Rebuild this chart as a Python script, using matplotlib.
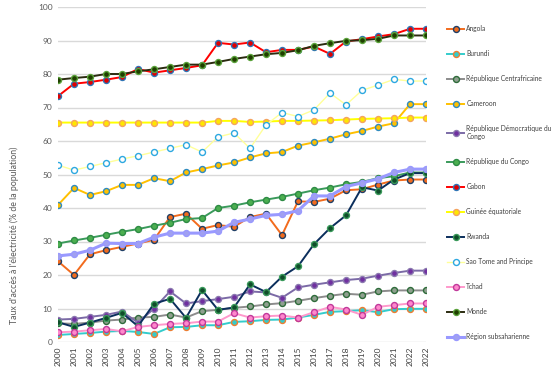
import matplotlib
matplotlib.use("Agg")
import matplotlib.pyplot as plt

plt.rcParams['font.family'] = ['Lato', 'DejaVu Sans']

years = [str(y) for y in range(2000, 2023)] + ["2022"]

angola = [24.1, 20.0, 26.2, 27.4, 28.4, 29.4, 30.5, 37.3, 38.3, 33.8, 34.9, 34.4,
          37.3, 38.3, 31.9, 42.0, 41.8, 42.8, 45.3, 45.6, 47.0, 48.2, 48.5, 48.5]
burundi = [2.1, 2.4, 2.7, 3.1, 3.3, 3.0, 2.4, 4.4, 4.5, 5.0, 5.0, 6.0,
           6.2, 6.6, 6.7, 7.3, 8.1, 9.0, 9.2, 9.5, 8.9, 9.8, 9.9, 9.9]
rca = [5.6, 5.4, 5.8, 6.4, 6.7, 7.3, 7.5, 8.2, 7.3, 9.2, 9.6, 10.2,
       10.6, 11.2, 11.6, 12.3, 13.1, 13.8, 14.4, 14.1, 15.1, 15.4, 15.4, 15.4]
cameroon = [40.9, 46.0, 43.9, 45.0, 46.9, 46.9, 48.9, 48.0, 50.6, 51.6, 52.7, 53.6,
            55.1, 56.3, 56.7, 58.6, 59.6, 60.7, 62.0, 63.0, 64.3, 65.3, 71.0, 71.0]
rdc = [6.7, 6.9, 7.5, 8.1, 9.1, 5.8, 10.0, 15.1, 11.5, 12.2, 12.8, 13.5,
       15.1, 14.8, 13.2, 16.3, 17.1, 17.8, 18.5, 18.9, 19.8, 20.6, 21.3, 21.3]
congo = [29.4, 30.3, 31.1, 32.0, 32.9, 33.7, 34.7, 35.6, 36.7, 37.0, 40.0, 40.7,
         41.7, 42.5, 43.3, 44.3, 45.3, 46.1, 47.1, 47.8, 48.9, 49.5, 50.6, 50.6]
gabon = [73.4, 77.1, 77.6, 78.3, 79.1, 81.5, 80.4, 81.1, 81.8, 82.6, 89.3, 88.8,
         89.4, 86.5, 87.2, 87.2, 88.2, 86.0, 89.7, 90.4, 91.2, 91.9, 93.5, 93.5]
guinee = [65.5, 65.5, 65.5, 65.5, 65.5, 65.5, 65.5, 65.5, 65.5, 65.5, 66.0, 66.0,
          65.7, 65.8, 66.0, 66.0, 66.1, 66.2, 66.4, 66.6, 66.7, 66.8, 67.0, 67.0]
rwanda = [5.9, 4.5, 5.8, 7.2, 8.7, 4.7, 11.4, 12.9, 7.2, 15.5, 9.6, 10.3,
          17.2, 14.9, 19.5, 22.6, 29.2, 34.0, 37.8, 46.2, 45.2, 48.5, 50.4, 50.4]
stp = [52.8, 51.3, 52.4, 53.5, 54.6, 55.6, 56.7, 57.8, 58.9, 56.7, 61.2, 62.4,
       57.8, 64.8, 68.5, 67.3, 69.3, 74.3, 70.8, 75.1, 76.7, 78.4, 77.9, 77.9]
tchad = [2.9, 3.1, 3.5, 3.9, 3.2, 4.5, 5.0, 5.4, 5.6, 6.1, 6.1, 8.6,
         7.3, 7.7, 7.9, 7.3, 8.9, 10.5, 9.7, 8.1, 10.5, 11.0, 11.5, 11.5]
monde = [78.3, 78.8, 79.2, 80.0, 80.0, 80.8, 81.4, 82.1, 82.8, 82.8, 83.6, 84.5,
         85.2, 85.9, 86.3, 87.1, 88.4, 89.2, 89.9, 90.1, 90.5, 91.5, 91.5, 91.5]
region = [25.7, 26.2, 27.4, 29.5, 29.4, 29.4, 31.3, 32.5, 32.5, 32.5, 33.1, 35.7,
          36.7, 37.8, 38.1, 39.2, 43.6, 43.6, 46.4, 47.5, 48.7, 50.6, 51.6, 51.6]

series = [
    ("Angola", angola, dict(color="#F26B1D", mfc="#F26B1D", mec="#1F3F66", lw=1.4)),
    ("Burundi", burundi, dict(color="#33CCCC", mfc="#33CCCC", mec="#ED7D31", lw=1.4)),
    ("République Centrafricaine", rca, dict(color="#8C8C8C", mfc="#8FA08F", mec="#2E6B3A", lw=1.4)),
    ("Cameroon", cameroon, dict(color="#FFC000", mfc="#FFC000", mec="#2E8BC0", lw=1.4)),
    ("République Démocratique du\nCongo", rdc, dict(color="#7B6AA6", mfc="#7030A0", mec="#8C7BB0", lw=1.4)),
    ("République du Congo", congo, dict(color="#3A9A5B", mfc="#4CAF50", mec="#2E8B45", lw=1.4)),
    ("Gabon", gabon, dict(color="#FF0000", mfc="#E00000", mec="#2E75B6", lw=1.4)),
    ("Guinée équatoriale", guinee, dict(color="#FFFF00", mfc="#FFE600", mec="#F4A460", lw=1.4)),
    ("Rwanda", rwanda, dict(color="#0B2E5C", mfc="#0F4D2A", mec="#3A9A5B", lw=1.4)),
    ("Sao Tome and Principe", stp, dict(color="#FFFF99", mfc="white", mec="#2DA8E0", lw=1.0)),
    ("Tchad", tchad, dict(color="#FF99CC", mfc="#FF88CC", mec="#C0399A", lw=1.4)),
    ("Monde", monde, dict(color="#2B2B10", mfc="#1F3F00", mec="#5BA33B", lw=1.4)),
    ("Région subsaharienne", region, dict(color="#9999FF", mfc="#A0A0F0", mec="#9999FF", lw=2.2)),
]

fig = plt.figure(figsize=(5.54, 3.92), dpi=100)
ax = fig.add_axes([58/554, 1 - 342/392, (426-58)/554, (342-7)/392])

x = list(range(len(years)))
for name, vals, st in series:
    ax.plot(x, vals, marker="o", markersize=4.3, markeredgewidth=1.0,
            label=name, color=st["color"], lw=st["lw"],
            markerfacecolor=st["mfc"], markeredgecolor=st["mec"])

ax.set_xlim(0, len(years) - 1)
ax.set_ylim(0, 100)
ax.set_yticks(range(0, 101, 10))
ax.set_xticks(x)
ax.set_xticklabels(years, rotation=90, fontsize=6, color="#404040")
ax.tick_params(axis="y", labelsize=6, colors="#595959", length=0, pad=4)
ax.tick_params(axis="x", length=0, pad=3)
for lbl in ax.get_xticklabels():
    lbl.set_color("#404040")
ax.grid(axis="y", color="#D9D9D9", lw=1.0)
ax.set_axisbelow(True)
for s in ax.spines.values():
    s.set_visible(False)

fig.text(14/554, 1 - 235/392, "Taux d'accès à l'électricité (% de la population)",
         rotation=90, ha="center", va="center", fontsize=6.3, color="#595959")

leg = ax.legend(loc="upper left", bbox_to_anchor=(447/554, 1 - 25/392),
                bbox_transform=fig.transFigure, frameon=False, fontsize=4.8,
                handlelength=2.6, handletextpad=0.3, labelspacing=2.7,
                borderaxespad=0, borderpad=0)
for t in leg.get_texts():
    t.set_color("#404040")

fig.savefig("out.png", dpi=100)
